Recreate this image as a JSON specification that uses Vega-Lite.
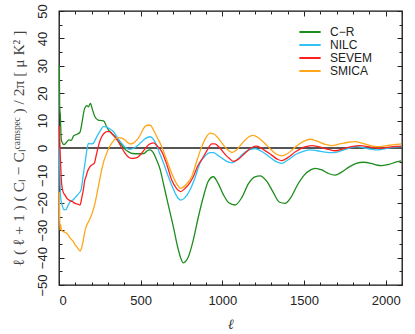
{
  "$schema": "https://vega.github.io/schema/vega-lite/v6.json",
  "width": 343,
  "height": 274,
  "autosize": "none",
  "padding": {"left": 59, "top": 11, "right": 13, "bottom": 49},
  "config": {
    "view": {"stroke": "#111", "strokeWidth": 1.3},
    "axis": {"domain": false, "grid": false, "labelFont": "Liberation Sans", "labelFontSize": 13, "labelColor": "#222", "tickColor": "#222", "tickWidth": 1, "titleFont": "Liberation Serif", "titleFontStyle": "italic", "titleFontWeight": "normal", "titleColor": "#333"},
    "legend": {"labelFont": "Liberation Sans", "labelFontSize": 12, "labelColor": "#222"}
  },
  "datasets": {
    "zero": [{"a": 0, "b": 2100, "z": 0}],
    "curves": [
      {"s": "C−R", "l": 2, "v": 30}, {"s": "C−R", "l": 4, "v": 15}, {"s": "C−R", "l": 8, "v": 12}, {"s": "C−R", "l": 14, "v": 3}, {"s": "C−R", "l": 20, "v": 2}, {"s": "C−R", "l": 30, "v": 1.2}, {"s": "C−R", "l": 45, "v": 2}, {"s": "C−R", "l": 60, "v": 3}, {"s": "C−R", "l": 75, "v": 2.8}, {"s": "C−R", "l": 90, "v": 4.5}, {"s": "C−R", "l": 110, "v": 5}, {"s": "C−R", "l": 129, "v": 5.8}, {"s": "C−R", "l": 140, "v": 9}, {"s": "C−R", "l": 155, "v": 14}, {"s": "C−R", "l": 170, "v": 15.5}, {"s": "C−R", "l": 180, "v": 15}, {"s": "C−R", "l": 192, "v": 16.3}, {"s": "C−R", "l": 205, "v": 14}, {"s": "C−R", "l": 220, "v": 11.4}, {"s": "C−R", "l": 240, "v": 10.2}, {"s": "C−R", "l": 260, "v": 10}, {"s": "C−R", "l": 275, "v": 9.8}, {"s": "C−R", "l": 290, "v": 8}, {"s": "C−R", "l": 302, "v": 6.6}, {"s": "C−R", "l": 320, "v": 5.5}, {"s": "C−R", "l": 343, "v": 4.1}, {"s": "C−R", "l": 365, "v": 2.5}, {"s": "C−R", "l": 384, "v": 1.1}, {"s": "C−R", "l": 405, "v": -0.5}, {"s": "C−R", "l": 424, "v": -1.3}, {"s": "C−R", "l": 450, "v": -2}, {"s": "C−R", "l": 486, "v": -2.1}, {"s": "C−R", "l": 520, "v": -2}, {"s": "C−R", "l": 540, "v": -1}, {"s": "C−R", "l": 557, "v": -0.7}, {"s": "C−R", "l": 575, "v": -1.5}, {"s": "C−R", "l": 598, "v": -4.4}, {"s": "C−R", "l": 620, "v": -8}, {"s": "C−R", "l": 639, "v": -12.9}, {"s": "C−R", "l": 670, "v": -21}, {"s": "C−R", "l": 700, "v": -28.7}, {"s": "C−R", "l": 730, "v": -37}, {"s": "C−R", "l": 761, "v": -41.9}, {"s": "C−R", "l": 790, "v": -40}, {"s": "C−R", "l": 822, "v": -33.6}, {"s": "C−R", "l": 850, "v": -26}, {"s": "C−R", "l": 884, "v": -17.8}, {"s": "C−R", "l": 915, "v": -12}, {"s": "C−R", "l": 945, "v": -10.5}, {"s": "C−R", "l": 975, "v": -13}, {"s": "C−R", "l": 1006, "v": -17}, {"s": "C−R", "l": 1040, "v": -20}, {"s": "C−R", "l": 1078, "v": -20.8}, {"s": "C−R", "l": 1120, "v": -18}, {"s": "C−R", "l": 1160, "v": -13}, {"s": "C−R", "l": 1200, "v": -10.5}, {"s": "C−R", "l": 1231, "v": -10.2}, {"s": "C−R", "l": 1270, "v": -12}, {"s": "C−R", "l": 1310, "v": -16}, {"s": "C−R", "l": 1350, "v": -19.8}, {"s": "C−R", "l": 1384, "v": -20.2}, {"s": "C−R", "l": 1420, "v": -18}, {"s": "C−R", "l": 1460, "v": -13.5}, {"s": "C−R", "l": 1500, "v": -10}, {"s": "C−R", "l": 1540, "v": -8}, {"s": "C−R", "l": 1568, "v": -7.4}, {"s": "C−R", "l": 1610, "v": -8}, {"s": "C−R", "l": 1650, "v": -9.3}, {"s": "C−R", "l": 1690, "v": -9.9}, {"s": "C−R", "l": 1730, "v": -8.8}, {"s": "C−R", "l": 1780, "v": -6.8}, {"s": "C−R", "l": 1820, "v": -5.6}, {"s": "C−R", "l": 1864, "v": -5.2}, {"s": "C−R", "l": 1910, "v": -5.6}, {"s": "C−R", "l": 1950, "v": -6.3}, {"s": "C−R", "l": 1976, "v": -6.4}, {"s": "C−R", "l": 2020, "v": -6}, {"s": "C−R", "l": 2060, "v": -5.2}, {"s": "C−R", "l": 2094, "v": -4.7},

      {"s": "NILC", "l": 2, "v": 0}, {"s": "NILC", "l": 5, "v": -8}, {"s": "NILC", "l": 10, "v": -18}, {"s": "NILC", "l": 20, "v": -21}, {"s": "NILC", "l": 30, "v": -22.5}, {"s": "NILC", "l": 43, "v": -22.5}, {"s": "NILC", "l": 55, "v": -21}, {"s": "NILC", "l": 70, "v": -19.5}, {"s": "NILC", "l": 85, "v": -19}, {"s": "NILC", "l": 100, "v": -18}, {"s": "NILC", "l": 115, "v": -17}, {"s": "NILC", "l": 135, "v": -15.3}, {"s": "NILC", "l": 148, "v": -10}, {"s": "NILC", "l": 159, "v": -5.6}, {"s": "NILC", "l": 170, "v": -1}, {"s": "NILC", "l": 180, "v": 1.7}, {"s": "NILC", "l": 195, "v": 1.5}, {"s": "NILC", "l": 210, "v": 1.7}, {"s": "NILC", "l": 222, "v": 3}, {"s": "NILC", "l": 235, "v": 4.5}, {"s": "NILC", "l": 255, "v": 6.5}, {"s": "NILC", "l": 271, "v": 7.8}, {"s": "NILC", "l": 290, "v": 7.7}, {"s": "NILC", "l": 310, "v": 7}, {"s": "NILC", "l": 333, "v": 6}, {"s": "NILC", "l": 360, "v": 3.5}, {"s": "NILC", "l": 384, "v": 1.7}, {"s": "NILC", "l": 410, "v": 0}, {"s": "NILC", "l": 435, "v": -0.5}, {"s": "NILC", "l": 460, "v": 0}, {"s": "NILC", "l": 486, "v": 1.1}, {"s": "NILC", "l": 510, "v": 2.5}, {"s": "NILC", "l": 530, "v": 3.5}, {"s": "NILC", "l": 557, "v": 4.1}, {"s": "NILC", "l": 585, "v": 2.5}, {"s": "NILC", "l": 610, "v": -1}, {"s": "NILC", "l": 640, "v": -5.5}, {"s": "NILC", "l": 670, "v": -10.5}, {"s": "NILC", "l": 700, "v": -15}, {"s": "NILC", "l": 720, "v": -17.5}, {"s": "NILC", "l": 745, "v": -19}, {"s": "NILC", "l": 770, "v": -18.2}, {"s": "NILC", "l": 802, "v": -15.3}, {"s": "NILC", "l": 835, "v": -10.5}, {"s": "NILC", "l": 863, "v": -5.6}, {"s": "NILC", "l": 895, "v": -2.8}, {"s": "NILC", "l": 925, "v": -1.7}, {"s": "NILC", "l": 945, "v": -1.7}, {"s": "NILC", "l": 966, "v": -2.4}, {"s": "NILC", "l": 1000, "v": -3.8}, {"s": "NILC", "l": 1030, "v": -5}, {"s": "NILC", "l": 1060, "v": -5.4}, {"s": "NILC", "l": 1090, "v": -4.3}, {"s": "NILC", "l": 1120, "v": -2.5}, {"s": "NILC", "l": 1160, "v": -0.8}, {"s": "NILC", "l": 1200, "v": -0.2}, {"s": "NILC", "l": 1240, "v": -1.2}, {"s": "NILC", "l": 1290, "v": -3.3}, {"s": "NILC", "l": 1330, "v": -5}, {"s": "NILC", "l": 1364, "v": -5.6}, {"s": "NILC", "l": 1400, "v": -4.4}, {"s": "NILC", "l": 1450, "v": -2.3}, {"s": "NILC", "l": 1500, "v": -1.1}, {"s": "NILC", "l": 1537, "v": -0.7}, {"s": "NILC", "l": 1580, "v": -1}, {"s": "NILC", "l": 1630, "v": -1.5}, {"s": "NILC", "l": 1680, "v": -1.7}, {"s": "NILC", "l": 1730, "v": -1}, {"s": "NILC", "l": 1780, "v": 0}, {"s": "NILC", "l": 1823, "v": 0.5}, {"s": "NILC", "l": 1870, "v": 0}, {"s": "NILC", "l": 1920, "v": -0.5}, {"s": "NILC", "l": 1945, "v": -0.7}, {"s": "NILC", "l": 2000, "v": -0.2}, {"s": "NILC", "l": 2050, "v": 0.3}, {"s": "NILC", "l": 2094, "v": 0.5},

      {"s": "SEVEM", "l": 2, "v": 8}, {"s": "SEVEM", "l": 6, "v": 0}, {"s": "SEVEM", "l": 10, "v": -6}, {"s": "SEVEM", "l": 16, "v": -12.9}, {"s": "SEVEM", "l": 25, "v": -16}, {"s": "SEVEM", "l": 37, "v": -17.2}, {"s": "SEVEM", "l": 50, "v": -18.5}, {"s": "SEVEM", "l": 67, "v": -19.2}, {"s": "SEVEM", "l": 80, "v": -19.5}, {"s": "SEVEM", "l": 98, "v": -20.2}, {"s": "SEVEM", "l": 115, "v": -20.5}, {"s": "SEVEM", "l": 129, "v": -20.8}, {"s": "SEVEM", "l": 140, "v": -18}, {"s": "SEVEM", "l": 149, "v": -15.3}, {"s": "SEVEM", "l": 157, "v": -12}, {"s": "SEVEM", "l": 165, "v": -10.5}, {"s": "SEVEM", "l": 175, "v": -8.5}, {"s": "SEVEM", "l": 190, "v": -6.8}, {"s": "SEVEM", "l": 205, "v": -6}, {"s": "SEVEM", "l": 216, "v": -5.6}, {"s": "SEVEM", "l": 225, "v": -3.5}, {"s": "SEVEM", "l": 231, "v": -1.9}, {"s": "SEVEM", "l": 245, "v": 1.5}, {"s": "SEVEM", "l": 261, "v": 4.1}, {"s": "SEVEM", "l": 275, "v": 5.3}, {"s": "SEVEM", "l": 292, "v": 6}, {"s": "SEVEM", "l": 310, "v": 6}, {"s": "SEVEM", "l": 322, "v": 5.4}, {"s": "SEVEM", "l": 343, "v": 4}, {"s": "SEVEM", "l": 363, "v": 2.3}, {"s": "SEVEM", "l": 385, "v": 0}, {"s": "SEVEM", "l": 404, "v": -1.9}, {"s": "SEVEM", "l": 425, "v": -3.3}, {"s": "SEVEM", "l": 445, "v": -3.8}, {"s": "SEVEM", "l": 465, "v": -3.7}, {"s": "SEVEM", "l": 486, "v": -3.2}, {"s": "SEVEM", "l": 505, "v": -2}, {"s": "SEVEM", "l": 527, "v": -0.3}, {"s": "SEVEM", "l": 550, "v": 1.3}, {"s": "SEVEM", "l": 578, "v": 1.9}, {"s": "SEVEM", "l": 605, "v": 0.5}, {"s": "SEVEM", "l": 629, "v": -1.3}, {"s": "SEVEM", "l": 660, "v": -6}, {"s": "SEVEM", "l": 690, "v": -11.7}, {"s": "SEVEM", "l": 720, "v": -14.8}, {"s": "SEVEM", "l": 745, "v": -15.9}, {"s": "SEVEM", "l": 775, "v": -14.5}, {"s": "SEVEM", "l": 800, "v": -12.8}, {"s": "SEVEM", "l": 822, "v": -10.5}, {"s": "SEVEM", "l": 850, "v": -6.5}, {"s": "SEVEM", "l": 884, "v": -3.2}, {"s": "SEVEM", "l": 910, "v": -0.5}, {"s": "SEVEM", "l": 935, "v": 1.5}, {"s": "SEVEM", "l": 955, "v": 1.5}, {"s": "SEVEM", "l": 986, "v": -0.1}, {"s": "SEVEM", "l": 1020, "v": -2.5}, {"s": "SEVEM", "l": 1047, "v": -4}, {"s": "SEVEM", "l": 1067, "v": -4.9}, {"s": "SEVEM", "l": 1100, "v": -4}, {"s": "SEVEM", "l": 1140, "v": -1.8}, {"s": "SEVEM", "l": 1180, "v": 0.2}, {"s": "SEVEM", "l": 1210, "v": 0.7}, {"s": "SEVEM", "l": 1250, "v": -0.5}, {"s": "SEVEM", "l": 1300, "v": -2.5}, {"s": "SEVEM", "l": 1340, "v": -4.2}, {"s": "SEVEM", "l": 1364, "v": -4.6}, {"s": "SEVEM", "l": 1400, "v": -3.5}, {"s": "SEVEM", "l": 1450, "v": -1.3}, {"s": "SEVEM", "l": 1500, "v": 0.3}, {"s": "SEVEM", "l": 1547, "v": 0.9}, {"s": "SEVEM", "l": 1600, "v": 0.3}, {"s": "SEVEM", "l": 1650, "v": -0.5}, {"s": "SEVEM", "l": 1690, "v": -1}, {"s": "SEVEM", "l": 1740, "v": -0.3}, {"s": "SEVEM", "l": 1790, "v": 0.5}, {"s": "SEVEM", "l": 1843, "v": 0.9}, {"s": "SEVEM", "l": 1900, "v": 0.4}, {"s": "SEVEM", "l": 1966, "v": -0.1}, {"s": "SEVEM", "l": 2020, "v": 0.3}, {"s": "SEVEM", "l": 2060, "v": 0.6}, {"s": "SEVEM", "l": 2094, "v": 0.7},

      {"s": "SMICA", "l": 2, "v": -16}, {"s": "SMICA", "l": 4, "v": -25}, {"s": "SMICA", "l": 6, "v": -30}, {"s": "SMICA", "l": 10, "v": -28}, {"s": "SMICA", "l": 15, "v": -30}, {"s": "SMICA", "l": 27, "v": -30.5}, {"s": "SMICA", "l": 45, "v": -31}, {"s": "SMICA", "l": 57, "v": -31.8}, {"s": "SMICA", "l": 70, "v": -33}, {"s": "SMICA", "l": 88, "v": -34.2}, {"s": "SMICA", "l": 100, "v": -35.5}, {"s": "SMICA", "l": 108, "v": -36}, {"s": "SMICA", "l": 120, "v": -37}, {"s": "SMICA", "l": 129, "v": -37.6}, {"s": "SMICA", "l": 138, "v": -36.5}, {"s": "SMICA", "l": 149, "v": -33.6}, {"s": "SMICA", "l": 160, "v": -30}, {"s": "SMICA", "l": 170, "v": -28.1}, {"s": "SMICA", "l": 180, "v": -27}, {"s": "SMICA", "l": 190, "v": -25.7}, {"s": "SMICA", "l": 205, "v": -23.5}, {"s": "SMICA", "l": 220, "v": -20.2}, {"s": "SMICA", "l": 230, "v": -17.5}, {"s": "SMICA", "l": 241, "v": -14.1}, {"s": "SMICA", "l": 251, "v": -11}, {"s": "SMICA", "l": 261, "v": -8}, {"s": "SMICA", "l": 276, "v": -4.5}, {"s": "SMICA", "l": 292, "v": -1.9}, {"s": "SMICA", "l": 307, "v": 0.2}, {"s": "SMICA", "l": 322, "v": 1.7}, {"s": "SMICA", "l": 342, "v": 3.2}, {"s": "SMICA", "l": 363, "v": 3.8}, {"s": "SMICA", "l": 384, "v": 3.6}, {"s": "SMICA", "l": 404, "v": 2.9}, {"s": "SMICA", "l": 420, "v": 2}, {"s": "SMICA", "l": 435, "v": 1.5}, {"s": "SMICA", "l": 455, "v": 1.8}, {"s": "SMICA", "l": 476, "v": 2.9}, {"s": "SMICA", "l": 500, "v": 5}, {"s": "SMICA", "l": 516, "v": 7}, {"s": "SMICA", "l": 540, "v": 8.3}, {"s": "SMICA", "l": 560, "v": 8.3}, {"s": "SMICA", "l": 578, "v": 6.6}, {"s": "SMICA", "l": 600, "v": 4}, {"s": "SMICA", "l": 629, "v": 0.5}, {"s": "SMICA", "l": 660, "v": -4.5}, {"s": "SMICA", "l": 690, "v": -9.2}, {"s": "SMICA", "l": 720, "v": -13}, {"s": "SMICA", "l": 745, "v": -14.7}, {"s": "SMICA", "l": 775, "v": -13.5}, {"s": "SMICA", "l": 812, "v": -10.5}, {"s": "SMICA", "l": 845, "v": -4.5}, {"s": "SMICA", "l": 874, "v": 0.5}, {"s": "SMICA", "l": 900, "v": 3.8}, {"s": "SMICA", "l": 925, "v": 5.4}, {"s": "SMICA", "l": 950, "v": 5}, {"s": "SMICA", "l": 976, "v": 3.5}, {"s": "SMICA", "l": 1010, "v": 0.8}, {"s": "SMICA", "l": 1047, "v": -1.3}, {"s": "SMICA", "l": 1057, "v": -1.6}, {"s": "SMICA", "l": 1090, "v": -0.5}, {"s": "SMICA", "l": 1130, "v": 2.3}, {"s": "SMICA", "l": 1170, "v": 4.3}, {"s": "SMICA", "l": 1190, "v": 4.6}, {"s": "SMICA", "l": 1230, "v": 3.3}, {"s": "SMICA", "l": 1280, "v": 0.5}, {"s": "SMICA", "l": 1330, "v": -2.2}, {"s": "SMICA", "l": 1364, "v": -2.9}, {"s": "SMICA", "l": 1400, "v": -2}, {"s": "SMICA", "l": 1450, "v": 0.5}, {"s": "SMICA", "l": 1500, "v": 2.5}, {"s": "SMICA", "l": 1537, "v": 3.2}, {"s": "SMICA", "l": 1580, "v": 2.5}, {"s": "SMICA", "l": 1630, "v": 1.3}, {"s": "SMICA", "l": 1670, "v": 0.9}, {"s": "SMICA", "l": 1720, "v": 1.5}, {"s": "SMICA", "l": 1770, "v": 2.1}, {"s": "SMICA", "l": 1813, "v": 2.3}, {"s": "SMICA", "l": 1860, "v": 1.7}, {"s": "SMICA", "l": 1910, "v": 0.8}, {"s": "SMICA", "l": 1955, "v": 0.5}, {"s": "SMICA", "l": 2000, "v": 0.8}, {"s": "SMICA", "l": 2050, "v": 1.2}, {"s": "SMICA", "l": 2094, "v": 1.5}
    ]
  },
  "layer": [
    {
      "data": {"name": "zero"},
      "mark": {"type": "rule", "color": "#555555", "strokeWidth": 2},
      "encoding": {
        "x": {"field": "a", "type": "quantitative", "scale": {"domain": [0, 2100], "nice": false, "zero": false}, "axis": {"orient": "top", "values": [0, 500, 1000, 1500, 2000], "labels": false, "tickSize": -5, "title": null}},
        "x2": {"field": "b"},
        "y": {"field": "z", "type": "quantitative", "scale": {"domain": [-50, 50], "nice": false}, "axis": {"orient": "right", "values": [-50, -40, -30, -20, -10, 0, 10, 20, 30, 40, 50], "labels": false, "tickSize": -5, "title": null}}
      }
    },
    {
      "data": {"name": "zero"},
      "mark": {"type": "rule", "opacity": 0},
      "encoding": {
        "x": {"field": "a", "type": "quantitative", "scale": {"domain": [0, 2100], "nice": false, "zero": false}, "axis": {"orient": "top", "values": [100, 200, 300, 400, 600, 700, 800, 900, 1100, 1200, 1300, 1400, 1600, 1700, 1800, 1900, 2100], "labels": false, "tickSize": -3, "title": null}},
        "x2": {"field": "b"},
        "y": {"field": "z", "type": "quantitative", "scale": {"domain": [-50, 50], "nice": false}, "axis": {"orient": "right", "values": [-45, -35, -25, -15, -5, 5, 15, 25, 35, 45], "labels": false, "tickSize": -3, "title": null}}
      }
    },
    {
      "data": {"name": "zero"},
      "mark": {"type": "rule", "opacity": 0},
      "encoding": {
        "x": {"field": "a", "type": "quantitative", "scale": {"domain": [0, 2100], "nice": false, "zero": false}, "axis": {"orient": "bottom", "values": [100, 200, 300, 400, 600, 700, 800, 900, 1100, 1200, 1300, 1400, 1600, 1700, 1800, 1900, 2100], "labels": false, "tickSize": -3, "title": null}},
        "x2": {"field": "b"},
        "y": {"field": "z", "type": "quantitative", "scale": {"domain": [-50, 50], "nice": false}, "axis": {"orient": "left", "values": [-45, -35, -25, -15, -5, 5, 15, 25, 35, 45], "labels": false, "tickSize": -3, "title": null}}
      }
    },
    {
      "data": {"name": "curves"},
      "mark": {"type": "line", "strokeWidth": 1.3, "interpolate": "monotone"},
      "encoding": {
        "x": {"field": "l", "type": "quantitative", "scale": {"domain": [0, 2100], "nice": false, "zero": false}, "axis": {"orient": "bottom", "values": [0, 500, 1000, 1500, 2000], "format": "d", "tickSize": -5, "labelPadding": 14, "title": "ℓ", "titleFontSize": 14, "titlePadding": 10}},
        "y": {"field": "v", "type": "quantitative", "scale": {"domain": [-50, 50], "nice": false}, "axis": {"orient": "left", "values": [-50, -40, -30, -20, -10, 0, 10, 20, 30, 40, 50], "tickSize": -5, "labelAngle": -90, "labelAlign": "center", "labelBaseline": "bottom", "labelPadding": 15, "title": "ℓ ( ℓ  +  1 ) ( Cₗ  −  Cₗᶜᵃᵐˢᵖᵉᶜ ) / 2π          [ μ K² ]", "titleFontSize": 15.5, "titleFontStyle": "normal", "titleColor": "#444", "titleX": -41, "titleY": 137, "titleAngle": -90, "titleAlign": "center", "titleBaseline": "middle"}},
        "color": {"field": "s", "type": "nominal", "scale": {"domain": ["C−R", "NILC", "SEVEM", "SMICA"], "range": ["#1e8c1e", "#2ec2f5", "#ff1f1f", "#ffa61a"]}, "legend": {"title": null, "orient": "none", "legendX": 244, "legendY": 14, "symbolType": "M-1.8,0H1.8", "symbolSize": 140, "symbolStrokeWidth": 2, "rowPadding": 0, "labelOffset": 13}},
        "order": {"field": "l", "type": "quantitative"}
      }
    }
  ],
  "resolve": {"axis": {"x": "independent", "y": "independent"}}
}
